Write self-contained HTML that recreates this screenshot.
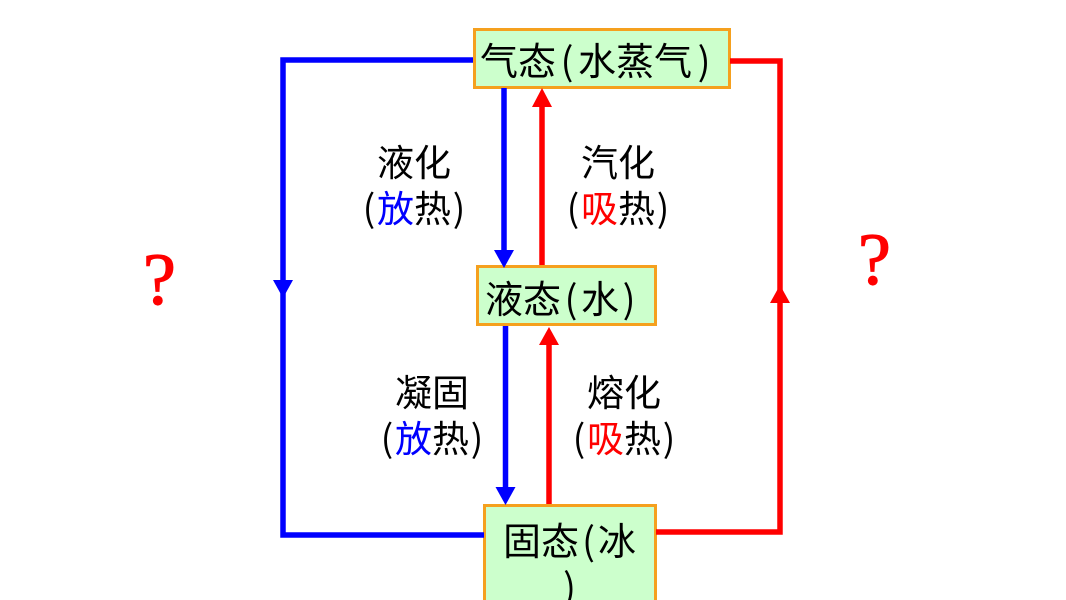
<!DOCTYPE html>
<html><head><meta charset="utf-8">
<style>
html,body{margin:0;padding:0;background:#fff;width:1066px;height:600px;overflow:hidden;}
body{position:relative;font-family:"Liberation Sans","Noto Sans CJK SC",sans-serif;}
.box{position:absolute;background:#ccffcc;border:3px solid #f5a01e;box-sizing:border-box;}
.t{position:absolute;white-space:nowrap;color:#000;font-family:"Noto Sans CJK SC","WenQuanYi Zen Hei",sans-serif;}
.p{display:inline-block;text-align:center;}
.lab{position:absolute;width:200px;text-align:center;white-space:nowrap;font-size:37px;line-height:46px;color:#000;font-family:"Noto Sans CJK SC","WenQuanYi Zen Hei",sans-serif;}
.lab .p{width:16px;}
.q{position:absolute;color:#ff0000;font-family:"Liberation Serif",serif;font-size:74px;line-height:74px;-webkit-text-stroke:1.2px #ff0000;}
svg{position:absolute;left:0;top:0;}
</style></head><body>

<div class="box" style="left:473px;top:28px;width:258px;height:61px;"></div>
<div class="box" style="left:476px;top:265px;width:181px;height:61px;"></div>
<div class="box" style="left:483px;top:504px;width:174px;height:110px;border-bottom:none;"></div>

<svg width="1066" height="600" viewBox="0 0 1066 600">
  <g fill="none" stroke-width="5.5" stroke-linejoin="miter">
    <polyline points="473,60 283,60 283,535 484,535" stroke="#0000ff"/>
    <line x1="504" y1="88" x2="504" y2="252" stroke="#0000ff"/>
    <line x1="505.5" y1="326" x2="505.5" y2="489" stroke="#0000ff"/>
    <polyline points="730,61 780,61 780,532 656,532" stroke="#ff0000"/>
    <line x1="542" y1="265" x2="542" y2="105" stroke="#ff0000"/>
    <line x1="549" y1="504" x2="549" y2="343" stroke="#ff0000"/>
  </g>
  <polygon points="273,280 293,280 283,298" fill="#0000ff"/>
  <polygon points="494,250 514,250 504,268" fill="#0000ff"/>
  <polygon points="495.5,487 515.5,487 505.5,505" fill="#0000ff"/>
  <polygon points="770,303 790,303 780,285" fill="#ff0000"/>
  <polygon points="532,107 552,107 542,88" fill="#ff0000"/>
  <polygon points="539,345 559,345 549,327" fill="#ff0000"/>
</svg>

<div class="t" style="left:480px;top:40px;font-size:38px;line-height:38px;">气态<span class="p" style="width:22px">(</span>水蒸气<span class="p" style="width:24px">)</span></div>
<div class="t" style="left:485px;top:278px;font-size:38px;line-height:38px;">液态<span class="p" style="width:20px">(</span>水<span class="p" style="width:20px">)</span></div>
<div class="t" style="left:503px;top:516px;font-size:38px;line-height:46px;">固态<span class="p" style="width:19px">(</span>冰<br><span class="p" style="width:19px;margin-left:57px">)</span></div>

<div class="lab" style="left:314px;top:137px;">液化<br><span class="p">(</span><span style="color:#0000ff">放</span>热<span class="p">)</span></div>
<div class="lab" style="left:518px;top:137px;">汽化<br><span class="p">(</span><span style="color:#ff0000">吸</span>热<span class="p">)</span></div>
<div class="lab" style="left:332px;top:367px;">凝固<br><span class="p">(</span><span style="color:#0000ff">放</span>热<span class="p">)</span></div>
<div class="lab" style="left:524px;top:367px;">熔化<br><span class="p">(</span><span style="color:#ff0000">吸</span>热<span class="p">)</span></div>

<div class="q" style="left:143px;top:243px;">?</div>
<div class="q" style="left:858px;top:223px;">?</div>

</body></html>
